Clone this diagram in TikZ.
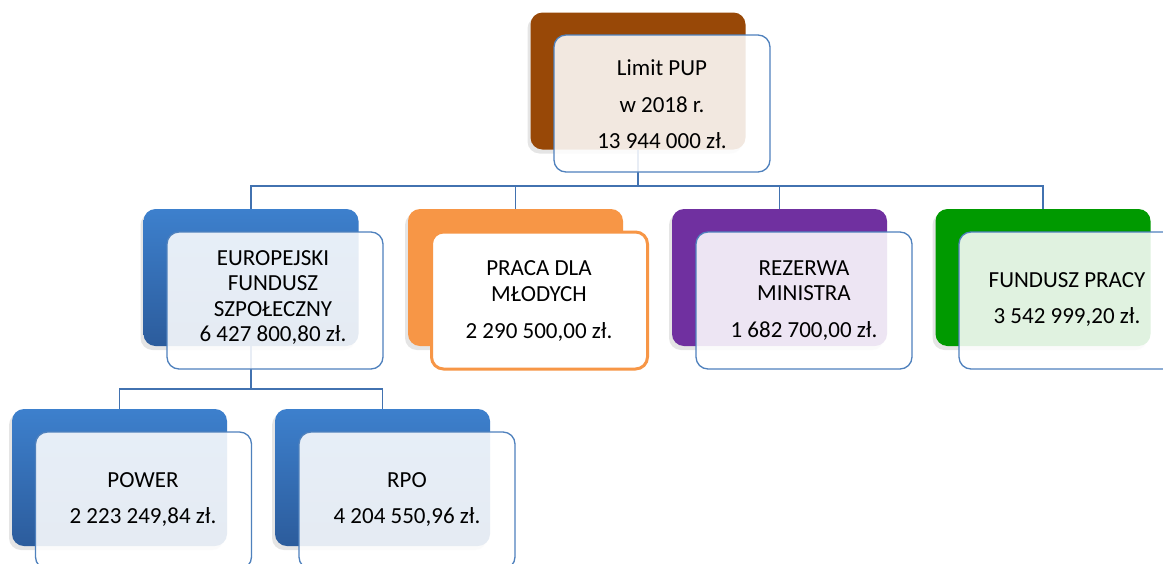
\documentclass[tikz,border=0pt]{standalone}
\usepackage{fontspec}
\setmainfont{Carlito}
\usetikzlibrary{shadows}
\definecolor{cbrown}{HTML}{984807}
\definecolor{corange}{HTML}{F79646}
\definecolor{cpurple}{HTML}{7030A0}
\definecolor{cgreen}{HTML}{009A00}
\definecolor{cbluetop}{HTML}{3D80CD}
\definecolor{cbluebot}{HTML}{2C5C9C}
\definecolor{cborder}{HTML}{4F81BD}
\definecolor{cconn}{HTML}{4272B0}
\begin{document}
\begin{tikzpicture}[x=1pt,y=-1pt,
  backbox/.style={rounded corners=12pt, minimum width=215pt, minimum height=137pt, inner sep=0pt, draw=none,
    drop shadow={shadow xshift=-3pt, shadow yshift=-4pt, opacity=0.2}},
  bluebox/.style={backbox, top color=cbluetop, bottom color=cbluebot},
  frontbox/.style={rounded corners=12pt, minimum width=216pt, minimum height=137pt, inner sep=0pt,
    draw=cborder, line width=1.3pt, fill=white, fill opacity=0.88},
  orangefront/.style={frontbox, draw=corange, line width=3pt, fill opacity=1},
  conn/.style={draw=cconn, line width=1.1pt},
  label/.style={align=center, inner sep=0pt, font=\fontsize{23}{25.5}\selectfont, text=black}]
\useasboundingbox (0,0) rectangle (1163,563);
\fill[white] (0,0) rectangle (1163,563);

% back boxes
\node[backbox, fill=cbrown] (limitB) at (638,81) {};
\node[bluebox] (efsB) at (251,277.5) {};
\node[backbox, fill=corange] (pracaB) at (515.5,277.5) {};
\node[backbox, fill=cpurple] (rezB) at (779.5,277.5) {};
\node[backbox, fill=cgreen] (fundB) at (1043,277.5) {};
\node[bluebox] (powerB) at (119.5,477.5) {};
\node[bluebox] (rpoB) at (382.5,477.5) {};

% connectors
\coordinate (bus1) at (638,186);
\coordinate (bus2) at (251,389);
\draw[conn] (limitB.south) -- (bus1);
\draw[conn] (efsB.north) |- (bus1) -| (fundB.north);
\draw[conn] (pracaB.north) -- (pracaB.north |- bus1);
\draw[conn] (rezB.north) -- (rezB.north |- bus1);
\draw[conn] (efsB.south) -- (bus2);
\draw[conn] (powerB.north) |- (bus2) -| (rpoB.north);

% front boxes
\node[frontbox] (limitF) at (662,103.5) {};
\node[frontbox] (efsF) at (275,300.5) {};
\node[orangefront] (pracaF) at (539.5,300.5) {};
\node[frontbox] (rezF) at (804,300.5) {};
\node[frontbox] (fundF) at (1067,300.5) {};
\node[frontbox] (powerF) at (143.5,500.5) {};
\node[frontbox] (rpoF) at (407,500.5) {};

% texts
\node[label] (limitT) at (662,104) {Limit PUP\\[11.5pt] w 2018 r.\\[11pt] 13 944 000 zł.};
\node[label] (efsT) at (273,297.5) {EUROPEJSKI\\ FUNDUSZ\\ SZPOŁECZNY\\ 6 427 800,80 zł.};
\node[label] (pracaT) at (539,301) {PRACA DLA\\ MŁODYCH\\[11.5pt] 2 290 500,00 zł.};
\node[label] (rezT) at (804,300.5) {REZERWA\\ MINISTRA\\[11.5pt] 1 682 700,00 zł.};
\node[label] (fundT) at (1067,299.5) {FUNDUSZ PRACY\\[10pt] 3 542 999,20 zł.};
\node[label] (powerT) at (143,500) {POWER\\[10.5pt] 2 223 249,84 zł.};
\node[label] (rpoT) at (407,500) {RPO\\[10.5pt] 4 204 550,96 zł.};
\end{tikzpicture}
\end{document}
